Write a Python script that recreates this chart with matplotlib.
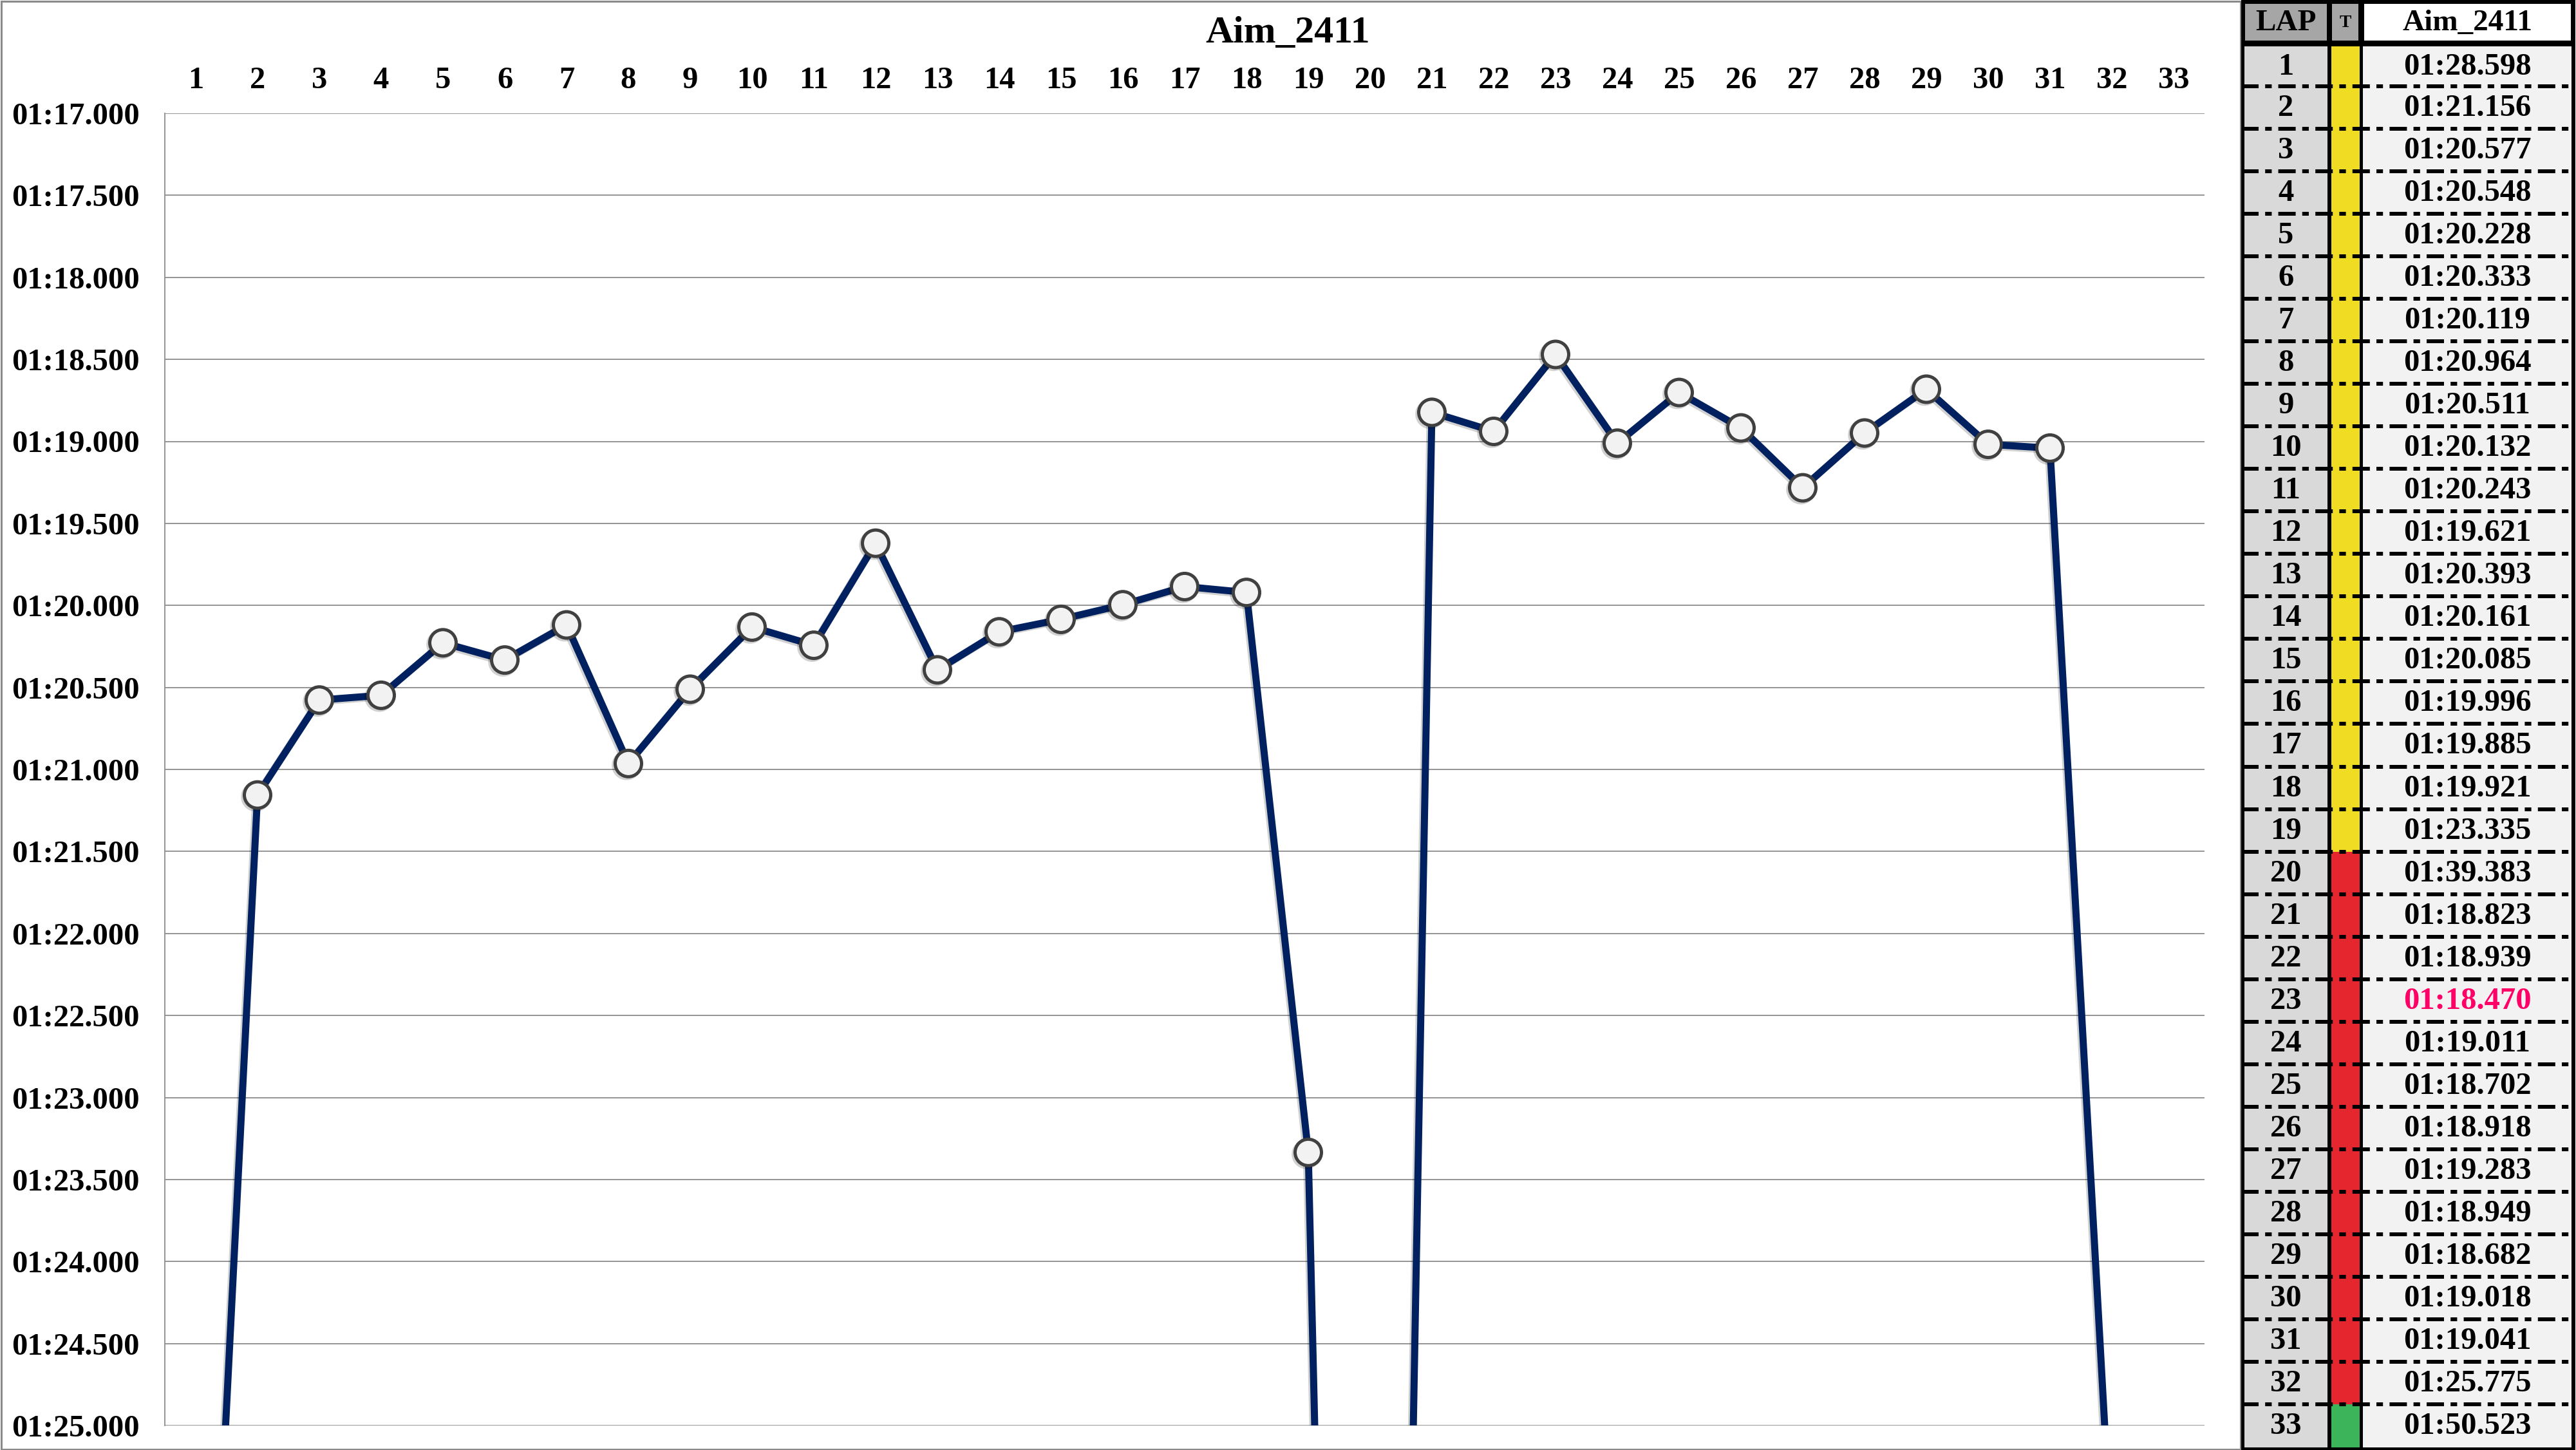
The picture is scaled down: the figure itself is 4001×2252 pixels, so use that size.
import matplotlib
matplotlib.use("Agg")
import matplotlib.pyplot as plt
import matplotlib.patheffects as pe
from matplotlib.patches import Rectangle
from matplotlib.ticker import FixedLocator, FuncFormatter

# ---------------- data ----------------
laps = list(range(1, 34))
lap_times = [88.598, 81.156, 80.577, 80.548, 80.228, 80.333, 80.119, 80.964,
             80.511, 80.132, 80.243, 79.621, 80.393, 80.161, 80.085, 79.996,
             79.885, 79.921, 83.335, 99.383, 78.823, 78.939, 78.470, 79.011,
             78.702, 78.918, 79.283, 78.949, 78.682, 79.018, 79.041, 85.775,
             110.523]
tyres = ['Y'] * 19 + ['R'] * 13 + ['G']
driver = "Aim_2411"
y_ticks = [77.0, 77.5, 78.0, 78.5, 79.0, 79.5, 80.0, 80.5, 81.0, 81.5,
           82.0, 82.5, 83.0, 83.5, 84.0, 84.5, 85.0]

tyre_colors = {'Y': '#f0dc23', 'R': '#e5262f', 'G': '#3cb55a'}


def fmt_time(v, pos=None):
    m = int(v // 60)
    s = v - 60 * m
    return f"{m:02d}:{s:06.3f}"


W, H = 4001, 2252
DPI = 100
PX = 72.0 / DPI  # points per pixel
FONT = 'Liberation Serif'

fig = plt.figure(figsize=(W / DPI, H / DPI), dpi=DPI)
fig.patch.set_facecolor('white')

# overlay axes in pixel coordinates (frame + table)
ov = fig.add_axes([0, 0, 1, 1])
ov.set_xlim(0, W)
ov.set_ylim(H, 0)
ov.axis('off')

# chart frame
ov.add_patch(Rectangle((1.5, 1.5), 3478, H - 3, fill=False,
                       edgecolor='#8a8a8a', lw=3 * PX))

# ---------------- chart ----------------
ax_l, ax_r, ax_t, ax_b = 256, 3424, 176, 2214
ax = fig.add_axes([ax_l / W, 1 - ax_b / H, (ax_r - ax_l) / W, (ax_b - ax_t) / H])
ax.set_facecolor('none')
x = list(range(len(laps)))
line, = ax.plot(x, lap_times, color='#002060', lw=11 * PX,
                marker='o', markersize=41 * PX, markerfacecolor='#f2f2f2',
                markeredgecolor='#404040', markeredgewidth=5 * PX,
                zorder=3)
line.set_path_effects([pe.SimpleLineShadow(offset=(-2, -2), shadow_color='black', alpha=0.18),
                       pe.Normal()])
ax.set_xlim(-0.5, len(laps) - 0.5)
ax.set_ylim(y_ticks[-1], y_ticks[0])
ax.yaxis.set_major_locator(FixedLocator(y_ticks))
ax.yaxis.set_major_formatter(FuncFormatter(fmt_time))
ax.set_xticks(x)
ax.set_xticklabels([str(l) for l in laps])
ax.grid(axis='y', color='#8c8c8c', lw=1.8 * PX)
ax.grid(axis='x', visible=False)
for s in ['top', 'right', 'bottom']:
    ax.spines[s].set_visible(False)
ax.spines['left'].set_color('#8c8c8c')
ax.spines['left'].set_linewidth(1.8 * PX)
ax.tick_params(axis='x', top=True, bottom=False, labeltop=True, labelbottom=False,
               length=0, pad=21)
ax.tick_params(axis='y', length=0, pad=28)
for lab in ax.get_xticklabels() + ax.get_yticklabels():
    lab.set_fontfamily(FONT)
    lab.set_fontweight('bold')
    lab.set_fontsize(35)
ax.set_axisbelow(True)

fig.text(2000 / W, 1 - 52 / H, driver, ha='center', va='center',
         fontfamily=FONT, fontweight='bold', fontsize=43)

# ---------------- table ----------------
tx0, tx1 = 3481, 4000
ov.add_patch(Rectangle((tx0, 0), tx1 - tx0, H, facecolor='black', edgecolor='none'))
# column extents
lap_c = (3486, 3615)
t_c = (3621, 3665)
val_c = (3670, 3994)
# header
ov.add_patch(Rectangle((3487, 6), 3614 - 3487, 57, facecolor='#a6a6a6', edgecolor='none'))
ov.add_patch(Rectangle((3622, 6), 3663 - 3622, 57, facecolor='#a6a6a6', edgecolor='none'))
ov.add_patch(Rectangle((3672, 6), 3993 - 3672, 57, facecolor='white', edgecolor='none'))
hy = 36
ov.text((3487 + 3614) / 2, hy, 'LAP', ha='center', va='center', fontfamily=FONT,
        fontweight='bold', fontsize=34)
ov.text((3622 + 3663) / 2, hy, 'T', ha='center', va='center', fontfamily=FONT,
        fontweight='bold', fontsize=20)
ov.text((3672 + 3993) / 2, hy, driver, ha='center', va='center', fontfamily=FONT,
        fontweight='bold', fontsize=34)

row0 = 67.5
rh = (2247.5 - row0) / len(laps)
best = min(lap_times)
for i, (lp, t, ty) in enumerate(zip(laps, lap_times, tyres)):
    top = row0 + i * rh
    bot = top + rh
    ctop = 72 if i == 0 else top
    ov.add_patch(Rectangle((lap_c[0], ctop), lap_c[1] - lap_c[0], bot - ctop,
                           facecolor='#d9d9d9', edgecolor='none'))
    ov.add_patch(Rectangle((t_c[0], ctop), t_c[1] - t_c[0], bot - ctop,
                           facecolor=tyre_colors[ty], edgecolor='none'))
    ov.add_patch(Rectangle((val_c[0], ctop), val_c[1] - val_c[0], bot - ctop,
                           facecolor='#f2f2f2', edgecolor='none'))
    cy = (ctop + bot) / 2 + 1
    ov.text(sum(lap_c) / 2, cy, str(lp), ha='center', va='center', fontfamily=FONT,
            fontweight='bold', fontsize=35)
    ov.text(sum(val_c) / 2, cy, fmt_time(t), ha='center', va='center', fontfamily=FONT,
            fontweight='bold', fontsize=35,
            color='#ff0066' if t == best else 'black')
    if i > 0:
        ov.plot([tx0, tx1], [top, top], color='black', lw=6 * PX,
                linestyle=(0, (4.5, 1.7, 1.7, 1.7)), solid_capstyle='butt',
                dash_capstyle='butt')

fig.savefig('out.png', dpi=DPI)
